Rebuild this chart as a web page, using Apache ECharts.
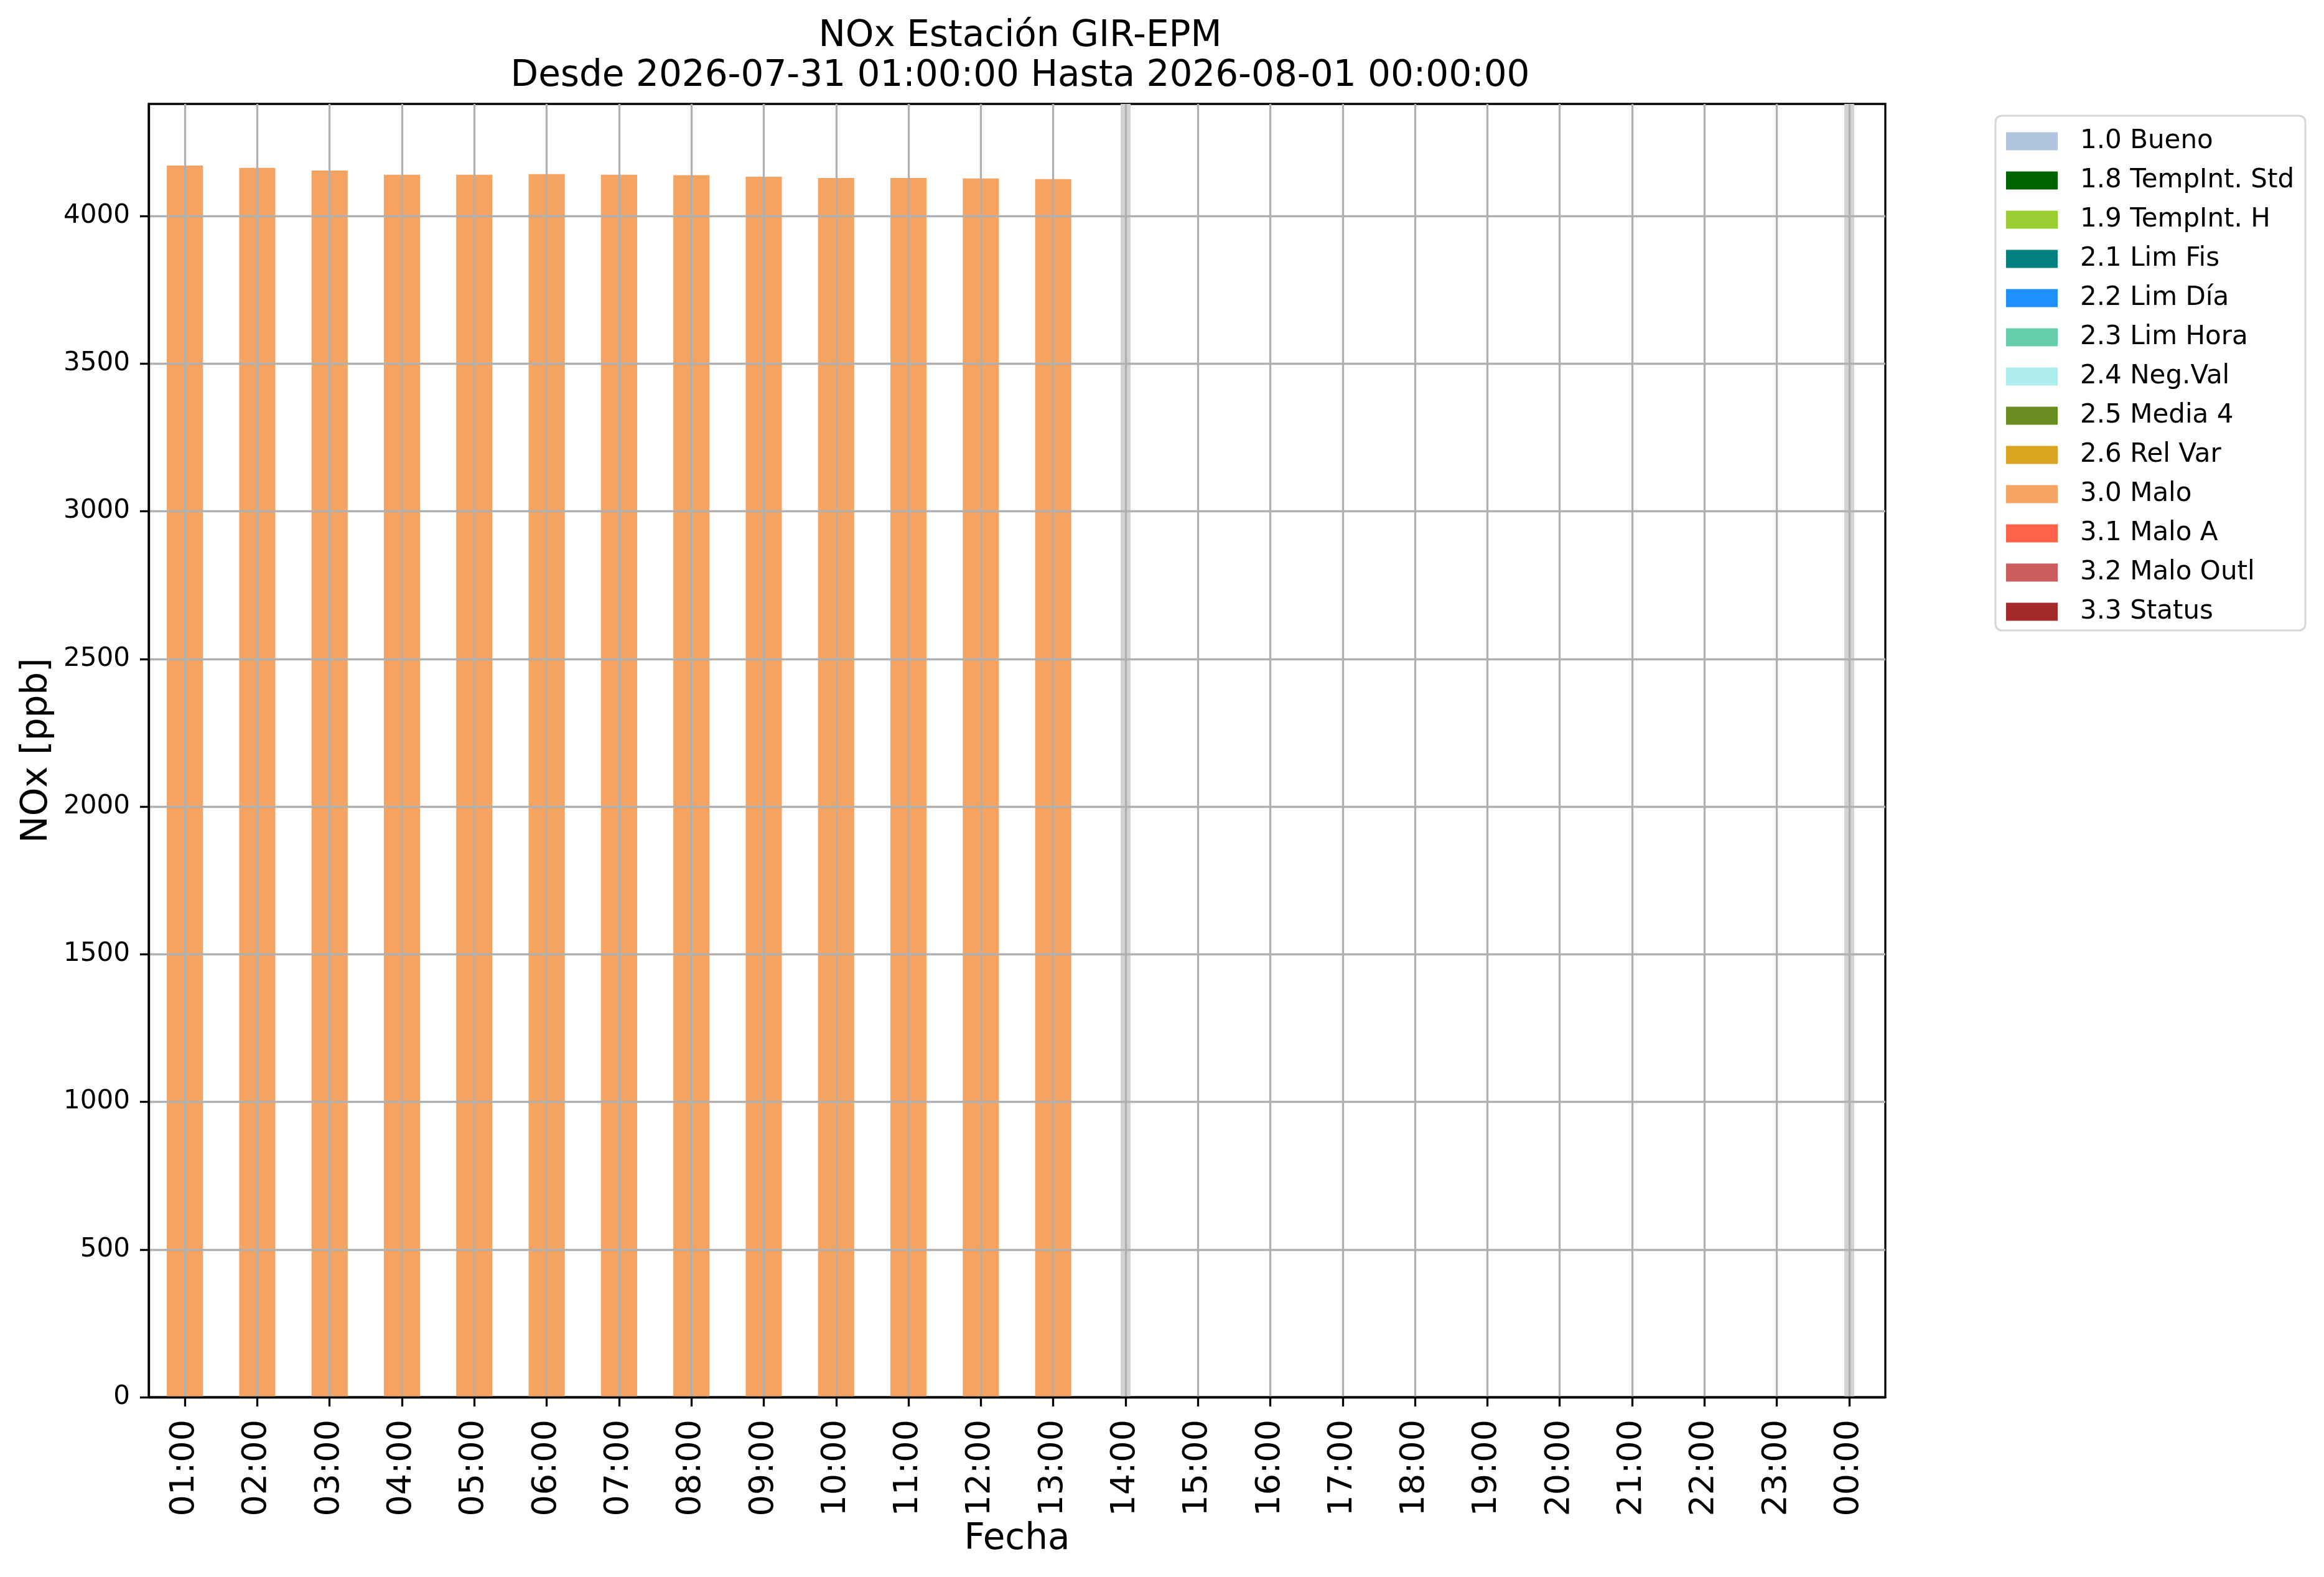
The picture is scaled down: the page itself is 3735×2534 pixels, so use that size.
<!DOCTYPE html>
<html>
<head>
<meta charset="utf-8">
<script src="https://cdn.jsdelivr.net/npm/echarts@6/dist/echarts.min.js"></script>
<style>
html,body{margin:0;padding:0;background:#fff;}
#chart{width:3735px;height:2534px;}
</style>
</head>
<body>
<div id="chart"></div>
<script>
const categories = ['01:00','02:00','03:00','04:00','05:00','06:00','07:00','08:00','09:00','10:00','11:00','12:00',
  '13:00','14:00','15:00','16:00','17:00','18:00','19:00','20:00','21:00','22:00','23:00','00:00'];
const flagNames = ['1.0 Bueno','1.8 TempInt. Std','1.9 TempInt. H','2.1 Lim Fis','2.2 Lim Día','2.3 Lim Hora',
  '2.4 Neg.Val','2.5 Media 4','2.6 Rel Var','3.0 Malo','3.1 Malo A','3.2 Malo Outl','3.3 Status'];
const flagColors = ['#b0c4de','#006400','#9acd32','#008080','#1e90ff','#66cdaa',
  '#afeeee','#6b8e23','#daa520','#f4a460','#ff6347','#cd5c5c','#a52a2a'];
const maloValues = [4171,4163,4154,4140,4140,4142,4140,4138,4133,4129,4129,4127,4125,
  null,null,null,null,null,null,null,null,null,null,null];
const otherValues = [];
const yTicks = [0,500,1000,1500,2000,2500,3000,3500,4000];
const markHours = ['14:00','00:00'];

const FONT = 'DejaVu Sans';
const yMax = Math.max(...maloValues.filter(v => v != null)) * 1.05;

const series = flagNames.map((name, i) => {
  const s = {
    name: name,
    type: 'bar',
    stack: 'flags',
    barWidth: '50%',
    itemStyle: { color: flagColors[i] },
    data: name === '3.0 Malo' ? maloValues : otherValues,
    z: 2
  };
  if (name === '3.0 Malo') {
    s.markLine = {
      silent: true,
      symbol: ['none','none'],
      label: { show: false },
      lineStyle: { color: '#d3d3d3', width: 16, type: 'solid', opacity: 1 },
      data: markHours.map(h => ({ xAxis: h }))
    };
  }
  return s;
});

const chart = echarts.init(document.getElementById('chart'), null, { renderer: 'canvas' });
chart.setOption({
  animation: false,
  backgroundColor: '#fff',
  textStyle: { fontFamily: FONT },
  title: {
    text: 'NOx Estación GIR-EPM\nDesde 2026-07-31 01:00:00 Hasta 2026-08-01 00:00:00',
    left: 1634.5,
    top: 22,
    textAlign: 'center',
    textStyle: { fontFamily: FONT, fontSize: 58, fontWeight: 'normal', color: '#000', lineHeight: 64 }
  },
  legend: {
    orient: 'vertical',
    left: 3207,
    top: 186,
    padding: [20, 18, 9, 17],
    itemWidth: 83,
    itemHeight: 29,
    itemGap: 21,
    icon: 'rect',
    selectedMode: false,
    backgroundColor: 'rgba(255,255,255,0.8)',
    borderColor: '#d6d6d6',
    borderWidth: 3,
    borderRadius: 10,
    textStyle: { fontFamily: FONT, fontSize: 42, color: '#000', padding: [0,0,0,31] },
    data: flagNames
  },
  grid: {
    left: 239, top: 167, width: 2791, height: 2078,
    show: true, borderColor: '#000', borderWidth: 3.3, backgroundColor: 'transparent'
  },
  xAxis: {
    type: 'category',
    data: categories,
    zlevel: 1,
    z: 5,
    name: 'Fecha',
    nameLocation: 'middle',
    nameGap: 200,
    nameTextStyle: { fontFamily: FONT, fontSize: 58, color: '#000' },
    axisLine: { show: true, lineStyle: { color: '#000', width: 3.3 } },
    axisTick: { show: true, alignWithLabel: true, length: 15, lineStyle: { color: '#000', width: 3.3 } },
    axisLabel: { rotate: 90, fontFamily: FONT, fontSize: 54, color: '#000', margin: 36, interval: 0 },
    splitLine: { show: true, alignWithLabel: true, lineStyle: { color: '#b0b0b0', width: 3.3 } }
  },
  yAxis: {
    type: 'value',
    min: 0,
    max: yMax,
    interval: 500,
    zlevel: 1,
    z: 5,
    name: 'NOx [ppb]',
    nameLocation: 'middle',
    nameGap: 150,
    nameTextStyle: { fontFamily: FONT, fontSize: 58, color: '#000' },
    axisLine: { show: true, lineStyle: { color: '#000', width: 3.3 } },
    axisTick: { show: true, length: 14, customValues: yTicks, lineStyle: { color: '#000', width: 3.3 } },
    axisLabel: { fontFamily: FONT, fontSize: 42, color: '#000', margin: 30, customValues: yTicks,
      formatter: v => String(v) },
    splitLine: { show: true, lineStyle: { color: '#b0b0b0', width: 3.3 } }
  },
  series: series
});
</script>
</body>
</html>
